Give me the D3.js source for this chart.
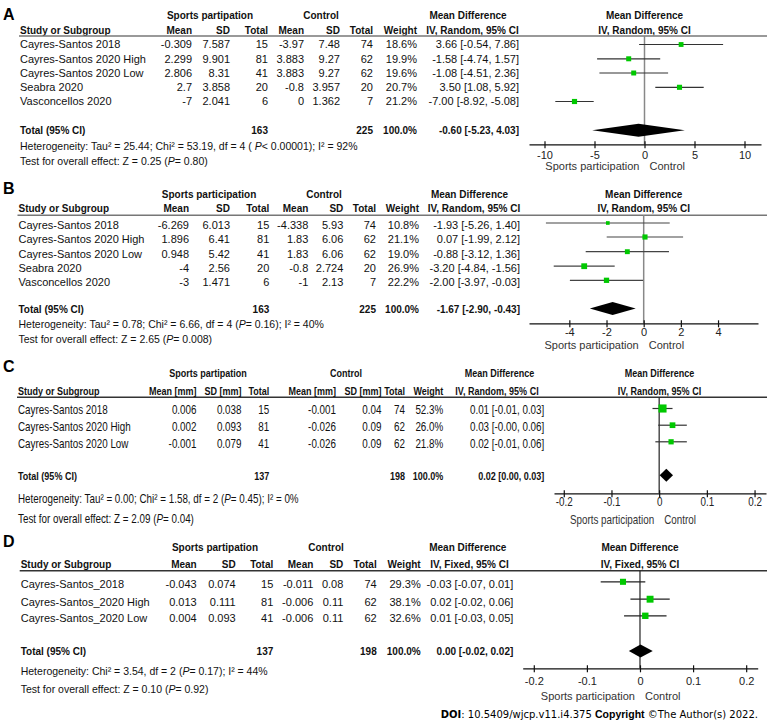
<!DOCTYPE html>
<html><head><meta charset="utf-8">
<script src="https://cdn.jsdelivr.net/npm/d3@7"></script>
<style>body{margin:0;background:#fff}svg{display:block}</style>
</head><body>
<svg id="c" width="767" height="726"></svg>
<script>
// ---------------- Panel A data ----------------
const studiesA = ["Cayres-Santos 2018","Cayres-Santos 2020 High","Cayres-Santos 2020 Low","Seabra 2020","Vasconcellos 2020"];
const spMeanA = ["-0.309","2.299","2.806","2.7","-7"];
const spSdA   = ["7.587","9.901","8.31","3.858","2.041"];
const spNA    = [15,81,41,20,6];
const ctMeanA = ["-3.97","3.883","3.883","-0.8","0"];
const ctSdA   = ["7.48","9.27","9.27","3.957","1.362"];
const ctNA    = [74,62,62,20,7];
const weightA = [18.6,19.9,19.6,20.7,21.2];
const mdA = [3.66,-1.58,-1.08,3.50,-7.00];
const loA = [-0.54,-4.74,-4.51,1.08,-8.92];
const hiA = [7.86,1.57,2.36,5.92,-5.08];
const totalA = {md:-0.60, lo:-5.23, hi:4.03, sp:163, ct:225};
const ticksA = [-10,-5,0,5,10];
const hetA  = ["Heterogeneity: Tau\u00b2 = 25.44; Chi\u00b2 = 53.19, df = 4 ( ","P","< 0.00001); I\u00b2 = 92%"];
const testA = ["Test for overall effect: Z = 0.25 (","P","= 0.80)"];

// ---------------- Panel B data ----------------
const studiesB = ["Cayres-Santos 2018","Cayres-Santos 2020 High","Cayres-Santos 2020 Low","Seabra 2020","Vasconcellos 2020"];
const spMeanB = ["-6.269","1.896","0.948","-4","-3"];
const spSdB   = ["6.013","6.41","5.42","2.56","1.471"];
const spNB    = [15,81,41,20,6];
const ctMeanB = ["-4.338","1.83","1.83","-0.8","-1"];
const ctSdB   = ["5.93","6.06","6.06","2.724","2.13"];
const ctNB    = [74,62,62,20,7];
const weightB = [10.8,21.1,19.0,26.9,22.2];
const mdB = [-1.93,0.07,-0.88,-3.20,-2.00];
const loB = [-5.26,-1.99,-3.12,-4.84,-3.97];
const hiB = [1.40,2.12,1.36,-1.56,-0.03];
const totalB = {md:-1.67, lo:-2.90, hi:-0.43, sp:163, ct:225};
const ticksB = [-4,-2,0,2,4];
const hetB  = ["Heterogeneity: Tau\u00b2 = 0.78; Chi\u00b2 = 6.66, df = 4 (","P","= 0.16); I\u00b2 = 40%"];
const testB = ["Test for overall effect: Z = 2.65 (","P","= 0.008)"];

// ---------------- Panel C data ----------------
const studiesC = ["Cayres-Santos 2018","Cayres-Santos 2020 High","Cayres-Santos 2020 Low"];
const spMeanC = ["0.006","0.002","-0.001"];
const spSdC   = ["0.038","0.093","0.079"];
const spNC    = [15,81,41];
const ctMeanC = ["-0.001","-0.026","-0.026"];
const ctSdC   = ["0.04","0.09","0.09"];
const ctNC    = [74,62,62];
const weightC = [52.3,26.0,21.8];
const mdC = [0.007,0.028,0.025];
const loC = [-0.014,-0.002,-0.008];
const hiC = [0.028,0.058,0.058];
const mdLabelC = ["0.01 [-0.01, 0.03]","0.03 [-0.00, 0.06]","0.02 [-0.01, 0.06]"];
const totalC = {md:0.015, lo:0.001, hi:0.029, sp:137, ct:198, label:"0.02 [0.00, 0.03]"};
const ticksC = [-0.2,-0.1,0,0.1,0.2];
const hetC  = ["Heterogeneity: Tau\u00b2 = 0.00; Chi\u00b2 = 1.58, df = 2 (","P","= 0.45); I\u00b2 = 0%"];
const testC = ["Test for overall effect: Z = 2.09 (","P","= 0.04)"];

// ---------------- Panel D data ----------------
const studiesD = ["Cayres-Santos_2018","Cayres-Santos_2020 High","Cayres-Santos_2020 Low"];
const spMeanD = ["-0.043","0.013","0.004"];
const spSdD   = ["0.074","0.111","0.093"];
const spND    = [15,81,41];
const ctMeanD = ["-0.011","-0.006","-0.006"];
const ctSdD   = ["0.08","0.11","0.11"];
const ctND    = [74,62,62];
const weightD = [29.3,38.1,32.6];
const mdD = [-0.032,0.019,0.010];
const loD = [-0.074,-0.018,-0.030];
const hiD = [0.010,0.056,0.050];
const mdLabelD = ["-0.03 [-0.07, 0.01]","0.02 [-0.02, 0.06]","0.01 [-0.03, 0.05]"];
const totalD = {md:0.001, lo:-0.021, hi:0.024, sp:137, ct:198, label:"0.00 [-0.02, 0.02]"};
const ticksD = [-0.2,-0.1,0,0.1,0.2];
const hetD  = ["Heterogeneity: Chi\u00b2 = 3.54, df = 2 (","P","= 0.17); I\u00b2 = 44%"];
const testD = ["Test for overall effect: Z = 0.10 (","P","= 0.92)"];

// ---------------- drawing ----------------
const svg = d3.select('#c');
const FONT = "'Liberation Sans', Arial, Helvetica, sans-serif";
const GREEN = '#00c800';
const sqSize = d3.scaleSqrt().domain([0,100]).range([0,11.2]);
const f2 = v => v.toFixed(2);

function drawPanel(P) {
  const g = svg.append('g');
  const S = P.squeeze;
  function text(x, y, s, o = {}) {
    const t = g.append('text')
      .attr('transform', `translate(${x},${y}) scale(${o.noSq ? 1 : S},1)`)
      .attr('dy', '0.35em')
      .attr('text-anchor', o.anchor || 'start')
      .attr('font-family', FONT)
      .attr('font-size', o.size || (o.bold ? P.boldSize : P.fontSize))
      .attr('font-weight', o.bold ? 'bold' : 'normal')
      .attr('fill', o.fill || '#111');
    if (Array.isArray(s)) s.forEach((seg, i) => t.append('tspan').attr('font-style', i % 2 ? 'italic' : 'normal').text(seg));
    else t.text(s);
    return t;
  }
  // panel letter
  text(3, P.letterY, P.letter, {bold:true, size:16, noSq:true, fill:'#000'});
  // header row 1
  text(P.h1.sp, P.h1Y, P.spTitle, {bold:true, anchor:'middle'});
  text(P.h1.ct, P.h1Y, 'Control', {bold:true, anchor:'middle'});
  text(P.h1.md, P.h1Y, 'Mean Difference', {bold:true, anchor:'middle'});
  text(P.h2md, P.h2Y, P.method, {bold:true, anchor:'middle'});
  text(P.plotCx, P.h1Y, 'Mean Difference', {bold:true, anchor:'middle'});
  text(P.plotCx, P.h2Y, P.method, {bold:true, anchor:'middle'});
  // header row 2
  text(P.nameX, P.h2Y, 'Study or Subgroup', {bold:true});
  P.cols.forEach(c => text(c.x, P.h2Y, c.h, {bold:true, anchor:'end'}));
  // rule
  g.append('line').attr('x1', P.nameX - 1).attr('x2', 767).attr('y1', P.lineY).attr('y2', P.lineY)
    .attr('stroke', P.ruleColor).attr('stroke-width', 1.5);
  // rows
  P.studies.forEach((s, i) => {
    const y = P.rows[i];
    text(P.nameX, y, s);
    P.cols.forEach(c => text(c.x, y, String(c.v[i]), {anchor:'end'}));
    const lab = P.mdLabel ? P.mdLabel[i] : `${f2(P.md[i])} [${f2(P.lo[i])}, ${f2(P.hi[i])}]`;
    text(P.mdX, y, lab, {anchor:'end'});
  });
  // total row
  const T = P.total;
  text(P.nameX, P.totalY, 'Total (95% CI)', {bold:true});
  text(P.cols[2].x, P.totalY, String(T.sp), {bold:true, anchor:'end'});
  text(P.cols[5].x, P.totalY, String(T.ct), {bold:true, anchor:'end'});
  text(P.cols[6].x, P.totalY, '100.0%', {bold:true, anchor:'end'});
  text(P.mdX, P.totalY, T.label || `${f2(T.md)} [${f2(T.lo)}, ${f2(T.hi)}]`, {bold:true, anchor:'end'});
  text(P.nameX, P.hetY, P.het, {size:P.smallSize});
  text(P.nameX, P.testY, P.test, {size:P.smallSize});

  // plot
  const x = d3.scaleLinear().domain(P.domain).range(P.range);
  // zero line
  g.append('line').attr('x1', x(0)).attr('x2', x(0)).attr('y1', P.lineY).attr('y2', P.axisY)
    .attr('stroke', P.zeroColor).attr('stroke-width', P.zeroW);
  // CI lines & squares
  P.studies.forEach((s, i) => {
    const y = P.rows[i] + P.mShift;
    g.append('line').attr('x1', x(P.lo[i])).attr('x2', x(P.hi[i])).attr('y1', y).attr('y2', y)
      .attr('stroke', P.ciColor).attr('stroke-width', 1.2);
    const sz = sqSize(P.weight[i]);
    g.append('rect').attr('x', x(P.md[i]) - sz / 2).attr('y', y - sz / 2).attr('width', sz).attr('height', sz)
      .attr('fill', GREEN);
  });
  // diamond
  const dy = P.totalY + P.mShift * 0.3, dh = 6.5;
  g.append('polygon').attr('points', [[x(T.lo), dy], [x(T.md), dy - dh], [x(T.hi), dy], [x(T.md), dy + dh]].map(p => p.join(',')).join(' '))
    .attr('fill', '#000');
  // axis
  const ax = g.append('g').attr('transform', `translate(0,${P.axisY})`)
    .call(d3.axisBottom(x).tickValues(P.ticks).tickSizeOuter(0).tickSizeInner(4).tickFormat(d => String(d)));
  ax.select('.domain').attr('stroke', '#111').attr('stroke-width', 1.3);
  ax.selectAll('.tick line').attr('y1', -3).attr('y2', 4).attr('stroke', '#111').attr('stroke-width', 1.2);
  ax.selectAll('.tick text').attr('y', P.tickLabY - P.axisY).attr('dy', '0.35em')
    .attr('font-family', FONT).attr('font-size', P.fontSize).attr('fill', '#222')
    .attr('transform', `scale(${S},1)`);
  text(x(0) - 5, P.footY, 'Sports participation', {anchor:'end', fill:'#333'});
  text(x(0) + 5, P.footY, 'Control', {fill:'#333'});
}

function cols(xs, hs, vs) { return xs.map((x, i) => ({x, h: hs[i], v: vs[i]})); }
const H = ['Mean','SD','Total','Mean','SD','Total','Weight'];
const HC = ['Mean [mm]','SD [mm]','Total','Mean [mm]','SD [mm]','Total','Weight'];

drawPanel({
  letter:'A', letterY:14, squeeze:1, fontSize:11, boldSize:10, smallSize:10.5,
  spTitle:'Sports partipation', method:'IV, Random, 95% CI',
  h1Y:15, h2Y:30, lineY:36, rows:[44.5,58.8,73,87.3,101.5], mShift:0, totalY:130.3, hetY:146.7, testY:161.5,
  nameX:20, h1:{sp:210, ct:321, md:468}, h2md:472.5, mdX:519, plotCx:644.5,
  cols: cols([192,230,268,304,340,373,417], H, [spMeanA,spSdA,spNA,ctMeanA,ctSdA,ctNA,weightA.map(w=>w.toFixed(1)+'%')]),
  studies:studiesA, md:mdA, lo:loA, hi:hiA, weight:weightA, total:totalA, het:hetA, test:testA,
  domain:[-11.55,11.65], range:[529,761], ticks:ticksA, axisY:144.3, tickLabY:155, footY:166,
  ruleColor:'#777', zeroColor:'#888', zeroW:1.5, ciColor:'#333'
});
drawPanel({
  letter:'B', letterY:188, squeeze:1, fontSize:11, boldSize:10, smallSize:10.5,
  spTitle:'Sports participation', method:'IV, Random, 95% CI',
  h1Y:194.3, h2Y:208.5, lineY:215.3, rows:[225,239,253.7,268.2,282.3], mShift:-2, totalY:309, hetY:324.5, testY:339.5,
  nameX:18.5, h1:{sp:209, ct:324, md:469.5}, h2md:474, mdX:520, plotCx:643.7,
  cols: cols([189,230,269.3,308.3,343.3,376,419], H, [spMeanB,spSdB,spNB,ctMeanB,ctSdB,ctNB,weightB.map(w=>w.toFixed(1)+'%')]),
  studies:studiesB, md:mdB, lo:loB, hi:hiB, weight:weightB, total:totalB, het:hetB, test:testB,
  domain:[-6.17,6.15], range:[529,758], ticks:ticksB, axisY:323.3, tickLabY:331.7, footY:345,
  ruleColor:'#777', zeroColor:'#888', zeroW:1.5, ciColor:'#444'
});
drawPanel({
  letter:'C', letterY:366, squeeze:0.82, fontSize:12, boldSize:11, smallSize:12,
  spTitle:'Sports partipation', method:'IV, Random, 95% CI',
  h1Y:373.3, h2Y:391, lineY:397.3, rows:[410,426.7,443.3], mShift:-1.5, totalY:475.7, hetY:499, testY:518.3,
  nameX:18, h1:{sp:208, ct:346, md:499.5}, h2md:497, mdX:544.3, plotCx:659.5,
  cols: cols([196.5,241.5,269.3,336,381.5,405,443.3], HC, [spMeanC,spSdC,spNC,ctMeanC,ctSdC,ctNC,weightC.map(w=>w.toFixed(1)+'%')]),
  studies:studiesC, md:mdC, lo:loC, hi:hiC, weight:weightC, total:totalC, het:hetC, test:testC, mdLabel:mdLabelC,
  domain:[-0.2205,0.224], range:[554,766], ticks:ticksC, axisY:493.3, tickLabY:501.7, footY:520,
  ruleColor:'#333', zeroColor:'#222', zeroW:1.2, ciColor:'#333'
});
drawPanel({
  letter:'D', letterY:541, squeeze:1, fontSize:11, boldSize:10, smallSize:10.5,
  spTitle:'Sports partipation', method:'IV, Fixed, 95% CI',
  h1Y:547.3, h2Y:564.3, lineY:570.7, rows:[584.3,601.7,618.3], mShift:-2.5, totalY:651.7, hetY:671.7, testY:689,
  nameX:20.7, h1:{sp:215, ct:326, md:467.8}, h2md:469.5, mdX:513.3, plotCx:640,
  cols: cols([196.7,235.7,273.3,313.3,343.3,376.7,420.7], H, [spMeanD,spSdD,spND,ctMeanD,ctSdD,ctND,weightD.map(w=>w.toFixed(1)+'%')]),
  studies:studiesD, md:mdD, lo:loD, hi:hiD, weight:weightD, total:totalD, het:hetD, test:testD, mdLabel:mdLabelD,
  domain:[-0.2209,0.2217], range:[522.7,757.7], ticks:ticksD, axisY:668.3, tickLabY:680.7, footY:695.7,
  ruleColor:'#333', zeroColor:'#222', zeroW:1.2, ciColor:'#222'
});

// credit line
const cr = svg.append('text').attr('x', 758).attr('y', 714).attr('dy', '0.35em').attr('text-anchor', 'end')
  .attr('font-family', "'DejaVu Sans', Verdana, sans-serif").attr('font-size', 10).attr('fill', '#000');
cr.append('tspan').attr('font-weight', 'bold').text('DOI');
cr.append('tspan').text(': 10.5409/wjcp.v11.i4.375  ');
cr.append('tspan').attr('font-weight', 'bold').attr('font-family', FONT).attr('font-size', 10.5).text('Copyright');
cr.append('tspan').text(' \u00a9The Author(s) 2022.');
</script>
</body></html>
